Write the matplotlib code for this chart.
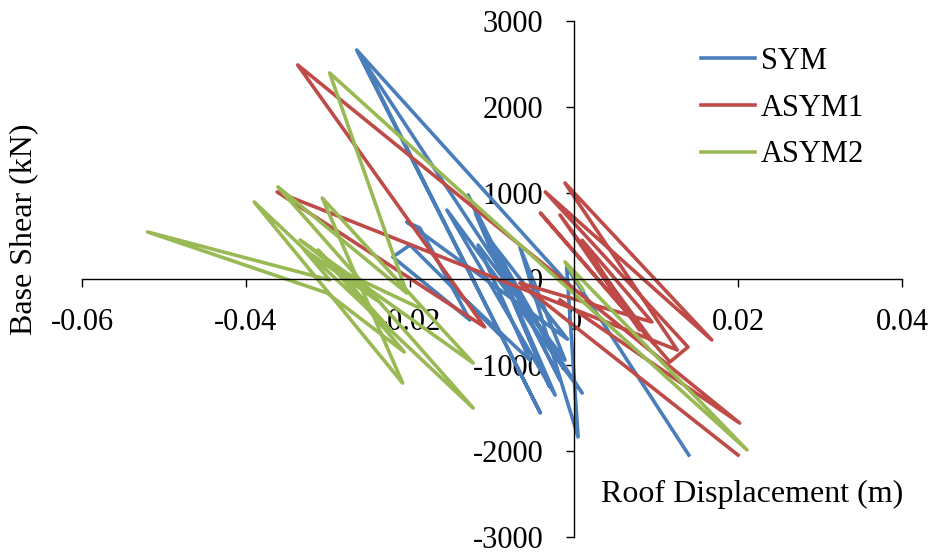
import matplotlib
matplotlib.use("Agg")
import matplotlib.pyplot as plt
import numpy as np

plt.rcParams['font.family'] = ['Liberation Serif', 'DejaVu Serif']
plt.rcParams['axes.unicode_minus'] = False

# roof displacement (m) / base shear (kN)
sym_x = [0.0, -0.0265, -0.0041, -0.0259, 0.0010, -0.0155, -0.0023, -0.0129, -0.0017,
         -0.0120, -0.0030, -0.0110, -0.0012, -0.0100, -0.0008,
         -0.0204, -0.0188, -0.0127, -0.0221, -0.0200, -0.0090, -0.0145, -0.0054,
         -0.0117, -0.0011, -0.0066, 0.0005, -0.0009, 0.0140]
sym_y = [-128, 2663, -1558, 2570, -1326, 802, -1349, 977, -1175,
         760, -1250, 560, -1050, 420, -700,
         663, 593, -477, 256, 395, -651, -128, -942,
         395, -942, 372, -1837, 140, -2047]

asym1_x = [-0.0017, 0.0202, -0.0337, -0.0109, -0.0362, 0.0126, -0.0011, 0.0168, -0.0035,
           0.0139, 0.0117, -0.0041, 0.0099, -0.0017, 0.0080, 0.0010, 0.0095, -0.0066, 0.0200]
asym1_y = [-244, -1675, 2489, -558, 1012, -826, 1116, -709, 1012,
           -791, -965, 768, -768, 744, -593, 450, -500, -47, -2047]

asym2_x = [0.0011, -0.0011, 0.0211, -0.0298, -0.0204, -0.0361, -0.0123, -0.0390, -0.0209,
           -0.0307, -0.0123, -0.0334, -0.0240, -0.0330, -0.0298, -0.0520, -0.0301, -0.0207,
           -0.0312, -0.0224, -0.0290, -0.0190]
asym2_y = [-128, 198, -1988, 2396, -163, 1070, -1500, 895, -1210,
           942, -977, 454, -250, 350, -12, 547, -163, -849,
           337, -593, 120, -330]

fig = plt.figure(figsize=(9.33, 5.54), dpi=100)
ax = fig.add_axes([82/933, 17/554, 820/933, 516/554])

ax.plot(sym_x, sym_y, color='#4A7EBB', lw=2.6, label='SYM')
ax.plot(asym1_x, asym1_y, color='#BE4B48', lw=2.6, label='ASYM1')
ax.plot(asym2_x, asym2_y, color='#98B954', lw=2.6, label='ASYM2')

ax.set_xlim(-0.06, 0.04)
ax.set_ylim(-3000, 3000)
ax.set_xticks(np.arange(-0.06, 0.041, 0.02))
ax.set_xticklabels(['-0.06', '-0.04', '-0.02', '0', '0.02', '0.04'])
ax.set_yticks(np.arange(-3000, 3001, 1000))

ax.spines['left'].set_position(('data', 0))
ax.spines['bottom'].set_position(('data', 0))
ax.spines['right'].set_visible(False)
ax.spines['top'].set_visible(False)
for s in ['left', 'bottom']:
    ax.spines[s].set_linewidth(1.0)

ax.tick_params(axis='x', direction='out', length=6, width=1, labelsize=22, pad=15)
ax.tick_params(axis='y', direction='out', length=6, width=1, labelsize=22, pad=16)

fig.text(24/933, 1-229/554, 'Base Shear (kN)', rotation=90, ha='center', va='center', fontsize=23)
fig.text(752/933, 1-494/554, 'Roof Displacement (m)', ha='center', va='center', fontsize=23)

ax.legend(loc='upper left', bbox_to_anchor=(701/933, 1-47/554), bbox_transform=fig.transFigure,
          frameon=False, fontsize=22, borderpad=0, borderaxespad=0,
          handlelength=1.76, handletextpad=0.2, labelspacing=0.58)

fig.savefig('out.png', dpi=100)
